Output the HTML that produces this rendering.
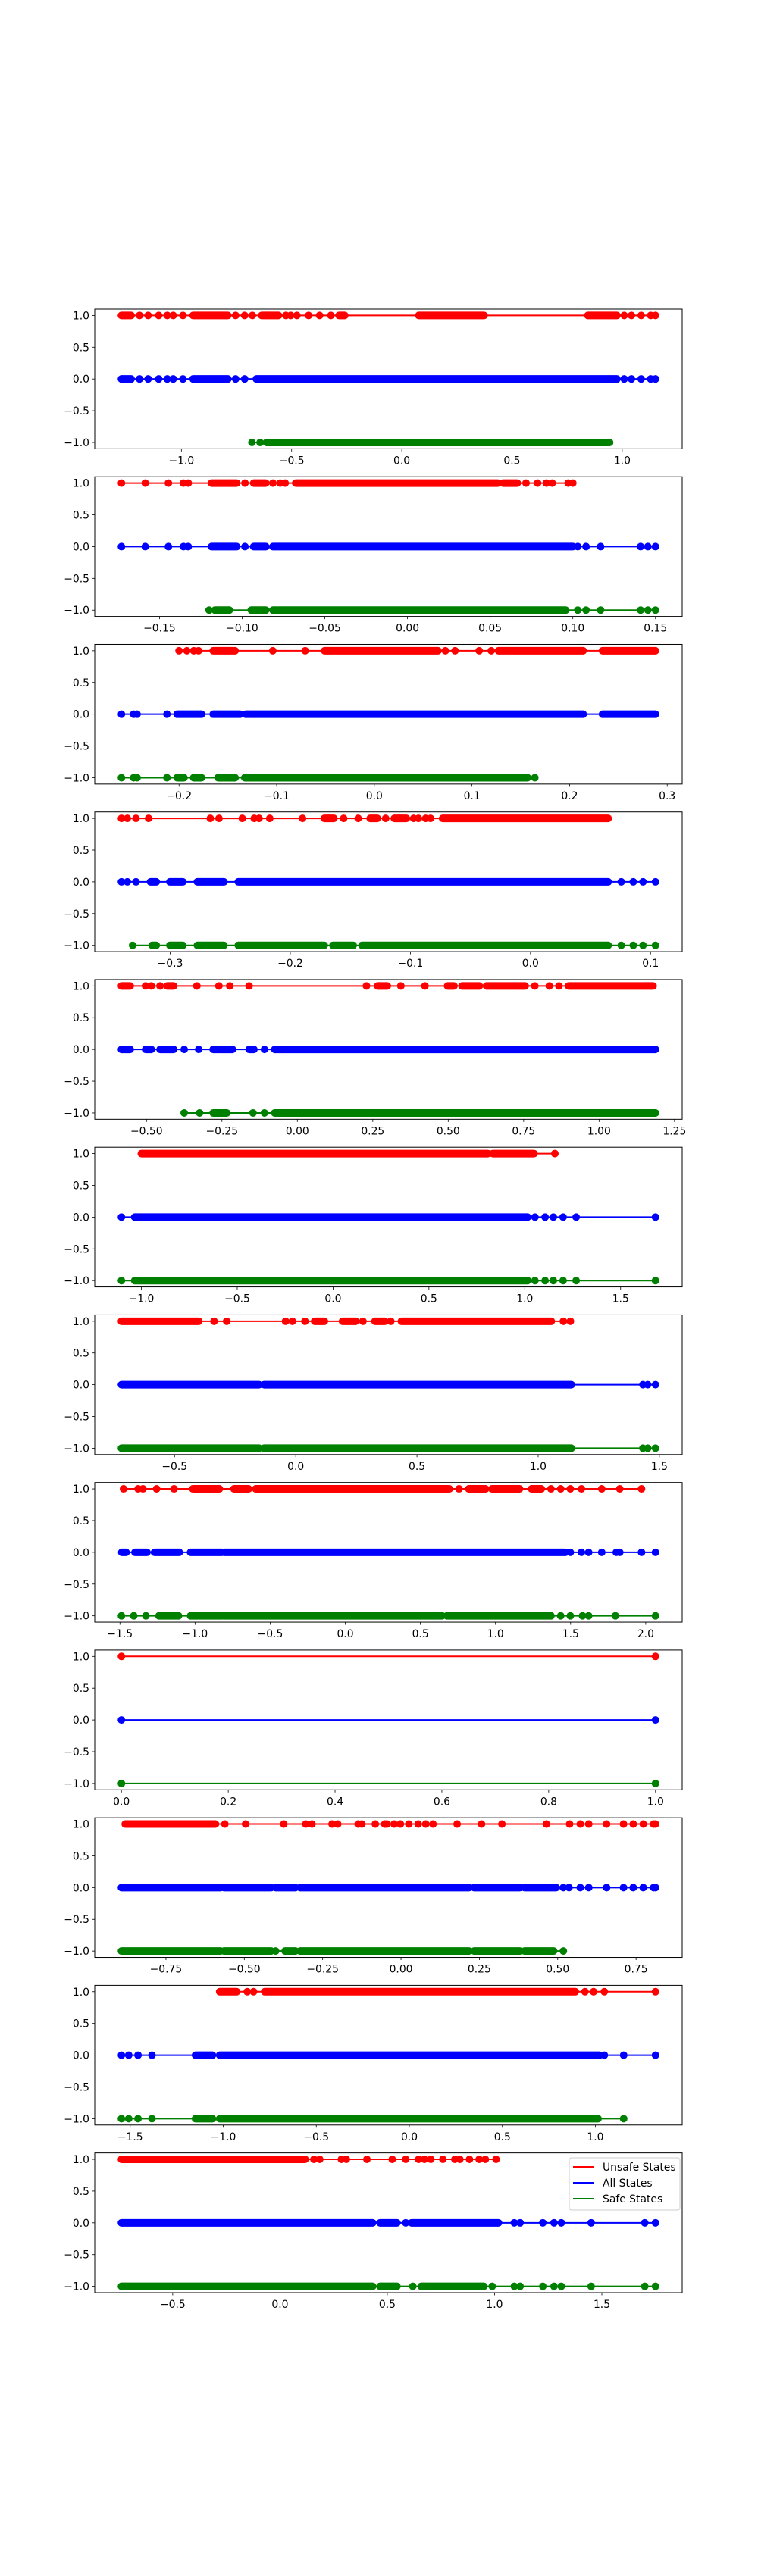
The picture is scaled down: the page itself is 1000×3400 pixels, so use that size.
<!DOCTYPE html>
<html><head><meta charset="utf-8">
<style>
html,body{margin:0;padding:0;background:#fff;}
svg{display:block;}
text{font-family:"DejaVu Sans","Liberation Sans",sans-serif;font-size:13.9px;fill:#000;}
</style></head>
<body>
<svg id="fig" width="1000" height="3400" viewBox="0 0 1000 3400" xmlns="http://www.w3.org/2000/svg"></svg>
<script>
// ---- data: x-values of markers (pts) and dense marker clusters (spans [from,to]) ----
const unsafe1Pts=[-1.19,-1.151,-1.103,-1.064,-1.037,-0.993,-0.754,-0.713,-0.678,-0.526,-0.504,-0.476,-0.423,-0.373,-0.322,1.009,1.042,1.086,1.129,1.151];
const unsafe1Dense=[[-1.272,-1.228],[-0.947,-0.789],[-0.636,-0.559],[-0.285,-0.259],[0.077,0.373],[0.844,0.976]];
const all1Pts=[-1.19,-1.151,-1.103,-1.064,-1.037,-0.993,-0.754,-0.713,1.009,1.042,1.086,1.129,1.151];
const all1Dense=[[-1.272,-1.228],[-0.947,-0.789],[-0.66,0.976]];
const safe1Pts=[-0.68,-0.643];
const safe1Dense=[[-0.614,0.943]];
const ticks1=[-1.0,-0.5,0.0,0.5,1.0];

const unsafe2Pts=[-0.173,-0.1586,-0.1446,-0.1355,-0.1326,-0.0983,-0.0814,-0.077,-0.074,0.0717,0.0787,0.084,0.0875,0.0972,0.1];
const unsafe2Dense=[[-0.1185,-0.1033],[-0.093,-0.0857],[-0.0676,0.0547],[0.0577,0.0664]];
const all2Pts=[-0.173,-0.1586,-0.1446,-0.1355,-0.1326,-0.0983,0.103,0.108,0.1168,0.141,0.1454,0.15];
const all2Dense=[[-0.1185,-0.1033],[-0.093,-0.0857],[-0.0814,0.1]];
const safe2Pts=[-0.12,0.103,0.108,0.1168,0.141,0.1454,0.15];
const safe2Dense=[[-0.1165,-0.1077],[-0.0945,-0.0857],[-0.0814,0.0957]];
const ticks2=[-0.15,-0.10,-0.05,0.00,0.05,0.10,0.15];

const unsafe3Pts=[-0.2,-0.192,-0.185,-0.18,-0.104,-0.0708,0.0728,0.0827,0.1074,0.1198];
const unsafe3Dense=[[-0.165,-0.1426],[-0.051,0.0653],[0.1272,0.2139],[0.2337,0.288]];
const all3Pts=[-0.259,-0.2465,-0.243,-0.2124];
const all3Dense=[[-0.202,-0.177],[-0.165,-0.1376],[-0.1317,0.2139],[0.2337,0.288]];
const safe3Pts=[-0.259,-0.2465,-0.243,-0.2124,0.1644];
const safe3Dense=[[-0.202,-0.195],[-0.185,-0.177],[-0.16,-0.1426],[-0.1327,0.157]];
const ticks3=[-0.2,-0.1,0.0,0.1,0.2,0.3];

const unsafe4Pts=[-0.3406,-0.3357,-0.3285,-0.318,-0.2666,-0.2594,-0.24,-0.23,-0.226,-0.2171,-0.1898,-0.1556,-0.1435,-0.1206,-0.0973,-0.0933,-0.0873,-0.0832];
const unsafe4Dense=[[-0.1717,-0.1637],[-0.1335,-0.1275],[-0.1134,-0.1033],[-0.0732,0.0647]];
const all4Pts=[-0.3406,-0.3357,-0.3285,0.0756,0.0856,0.0937,0.1041];
const all4Dense=[[-0.3164,-0.3116],[-0.3003,-0.2895],[-0.2774,-0.2553],[-0.2433,0.0647]];
const safe4Pts=[-0.3313,0.0756,0.0856,0.0937,0.1041];
const safe4Dense=[[-0.315,-0.3116],[-0.3003,-0.2895],[-0.2774,-0.2553],[-0.2433,-0.1717],[-0.1645,-0.1476],[-0.1403,0.0647]];
const ticks4=[-0.3,-0.2,-0.1,0.0,0.1];

const unsafe5Pts=[-0.503,-0.484,-0.455,-0.333,-0.26,-0.224,-0.16,0.229,0.343,0.423,0.787,0.835,0.867];
const unsafe5Dense=[[-0.583,-0.554],[-0.431,-0.41],[0.266,0.298],[0.498,0.519],[0.546,0.603],[0.627,0.755],[0.899,1.179]];
const all5Pts=[-0.375,-0.327,-0.109];
const all5Dense=[[-0.583,-0.554],[-0.503,-0.484],[-0.455,-0.41],[-0.279,-0.215],[-0.16,-0.144],[-0.075,1.187]];
const safe5Pts=[-0.375,-0.324,-0.147,-0.109];
const safe5Dense=[[-0.279,-0.234],[-0.075,1.187]];
const ticks5=[-0.50,-0.25,0.00,0.25,0.50,0.75,1.00,1.25];

const unsafe6Pts=[1.157];
const unsafe6Dense=[[-1.0,0.808],[0.833,1.048]];
const all6Pts=[-1.104,1.053,1.106,1.149,1.2,1.268,1.682];
const all6Dense=[[-1.035,1.015]];
const safe6Pts=[-1.104,1.053,1.106,1.149,1.2,1.268,1.682];
const safe6Dense=[[-1.035,1.015]];
const ticks6=[-1.0,-0.5,0.0,0.5,1.0,1.5];

const unsafe7Pts=[-0.337,-0.285,-0.042,-0.014,0.038,0.277,0.392,1.104,1.133];
const unsafe7Dense=[[-0.719,-0.4],[0.078,0.118],[0.193,0.247],[0.327,0.367],[0.436,1.054]];
const all7Pts=[1.432,1.452,1.484];
const all7Dense=[[-0.719,-0.151],[-0.131,1.137]];
const safe7Pts=[1.432,1.452,1.484];
const safe7Dense=[[-0.719,-0.151],[-0.131,1.137]];
const ticks7=[-0.5,0.0,0.5,1.0,1.5];

const unsafe8Pts=[-1.476,-1.379,-1.347,-1.256,-1.14,0.757,1.369,1.434,1.498,1.572,1.707,1.827,1.972];
const unsafe8Dense=[[-1.015,-0.838],[-0.741,-0.644],[-0.596,0.693],[0.822,0.934],[0.976,1.16],[1.24,1.305]];
const all8Pts=[1.498,1.572,1.62,1.707,1.804,1.827,1.972,2.065];
const all8Dense=[[-1.488,-1.459],[-1.40,-1.32],[-1.27,-1.105],[-1.03,-0.82],[-0.805,1.466]];
const safe8Pts=[-1.49,-1.408,-1.327,1.434,1.498,1.579,1.62,1.798,2.065];
const safe8Dense=[[-1.24,-1.11],[-1.03,-0.82],[-0.805,0.644],[0.677,1.369]];
const ticks8=[-1.5,-1.0,-0.5,0.0,0.5,1.0,1.5,2.0];

const unsafe9Pts=[0,1];
const unsafe9Dense=[];
const all9Pts=[0,1];
const all9Dense=[];
const safe9Pts=[0,1];
const safe9Dense=[];
const ticks9=[0.0,0.2,0.4,0.6,0.8,1.0];

const unsafe10Pts=[-0.562,-0.496,-0.374,-0.304,-0.284,-0.22,-0.202,-0.137,-0.125,-0.082,-0.052,-0.045,-0.022,-0.002,0.025,0.055,0.079,0.102,0.179,0.257,0.322,0.464,0.538,0.572,0.599,0.656,0.71,0.741,0.773,0.806,0.812];
const unsafe10Dense=[[-0.88,-0.592]];
const all10Pts=[0.518,0.536,0.572,0.599,0.656,0.71,0.741,0.773,0.806,0.812];
const all10Dense=[[-0.892,-0.576],[-0.565,-0.414],[-0.4,-0.337],[-0.322,0.217],[0.233,0.379],[0.394,0.495]];
const safe10Pts=[-0.4,0.518];
const safe10Dense=[[-0.892,-0.576],[-0.565,-0.414],[-0.37,-0.337],[-0.322,0.217],[0.233,0.379],[0.394,0.487]];
const ticks10=[-0.75,-0.50,-0.25,0.00,0.25,0.50,0.75];

const unsafe11Pts=[-0.871,-0.837,0.944,0.99,1.048,1.323];
const unsafe11Dense=[[-1.019,-0.928],[-0.777,0.892]];
const all11Pts=[-1.547,-1.508,-1.458,-1.383,1.048,1.152,1.323];
const all11Dense=[[-1.149,-1.058],[-1.019,1.022]];
const safe11Pts=[-1.547,-1.508,-1.458,-1.383,1.152];
const safe11Dense=[[-1.149,-1.058],[-1.019,1.014]];
const ticks11=[-1.5,-1.0,-0.5,0.0,0.5,1.0];

const unsafe12Pts=[0.158,0.185,0.286,0.309,0.405,0.523,0.586,0.646,0.673,0.703,0.759,0.815,0.838,0.883,0.928,0.957,1.007];
const unsafe12Dense=[[-0.739,0.117]];
const all12Pts=[0.586,1.092,1.119,1.225,1.277,1.311,1.45,1.7,1.75];
const all12Dense=[[-0.739,0.432],[0.466,0.545],[0.613,1.018]];
const safe12Pts=[0.619,0.989,1.092,1.119,1.225,1.277,1.311,1.45,1.7,1.75];
const safe12Dense=[[-0.739,0.432],[0.466,0.545],[0.658,0.95]];
const ticks12=[-0.5,0.0,0.5,1.0,1.5];

const seriesNames=["Unsafe States","All States","Safe States"];
const seriesLevels=[1,0,-1];
const yTicks=[-1.0,-0.5,0.0,0.5,1.0];

const panels=[
 [[unsafe1Pts,unsafe1Dense],[all1Pts,all1Dense],[safe1Pts,safe1Dense],ticks1,1],
 [[unsafe2Pts,unsafe2Dense],[all2Pts,all2Dense],[safe2Pts,safe2Dense],ticks2,2],
 [[unsafe3Pts,unsafe3Dense],[all3Pts,all3Dense],[safe3Pts,safe3Dense],ticks3,1],
 [[unsafe4Pts,unsafe4Dense],[all4Pts,all4Dense],[safe4Pts,safe4Dense],ticks4,1],
 [[unsafe5Pts,unsafe5Dense],[all5Pts,all5Dense],[safe5Pts,safe5Dense],ticks5,2],
 [[unsafe6Pts,unsafe6Dense],[all6Pts,all6Dense],[safe6Pts,safe6Dense],ticks6,1],
 [[unsafe7Pts,unsafe7Dense],[all7Pts,all7Dense],[safe7Pts,safe7Dense],ticks7,1],
 [[unsafe8Pts,unsafe8Dense],[all8Pts,all8Dense],[safe8Pts,safe8Dense],ticks8,1],
 [[unsafe9Pts,unsafe9Dense],[all9Pts,all9Dense],[safe9Pts,safe9Dense],ticks9,1],
 [[unsafe10Pts,unsafe10Dense],[all10Pts,all10Dense],[safe10Pts,safe10Dense],ticks10,2],
 [[unsafe11Pts,unsafe11Dense],[all11Pts,all11Dense],[safe11Pts,safe11Dense],ticks11,1],
 [[unsafe12Pts,unsafe12Dense],[all12Pts,all12Dense],[safe12Pts,safe12Dense],ticks12,1]
];

// ---- layout ----
const NS="http://www.w3.org/2000/svg";
const svg=document.getElementById('fig');
const AX_L=125, AX_R=900, TOP=408, PH=184.37, STEP=221.24;
const COLORS=["#ff0000","#0000ff","#008000"];
const R=5;
function mk(tag,attrs,parent){const e=document.createElementNS(NS,tag);for(const k in attrs)e.setAttribute(k,attrs[k]);(parent||svg).appendChild(e);return e;}
function fmt(v,d){const s=Math.abs(v).toFixed(d);return (v<-1e-9?"\u2212":"")+s;}

panels.forEach((p,i)=>{
  const top=TOP+i*STEP, bot=top+PH;
  const g=mk('g',{});
  
  
  let mn=Infinity,mx=-Infinity;
  for(let s=0;s<3;s++){p[s][0].forEach(v=>{mn=Math.min(mn,v);mx=Math.max(mx,v);});p[s][1].forEach(r=>{mn=Math.min(mn,r[0]);mx=Math.max(mx,r[1]);});}
  const m=(mx-mn)*0.05; const x0=mn-m, x1=mx+m;
  const X=v=>AX_L+(v-x0)/(x1-x0)*(AX_R-AX_L);
  const Y=v=>bot-(v+1.1)/2.2*PH;
  const cp='clip'+i;
  const cl=mk('clipPath',{id:cp},g); mk('rect',{x:AX_L,y:top,width:AX_R-AX_L,height:PH},cl);
  const plot=mk('g',{'clip-path':'url(#'+cp+')'},g);
  for(let s=0;s<3;s++){
    const pts=p[s][0], dense=p[s][1], y=Y(seriesLevels[s]);
    let smin=Infinity,smax=-Infinity;
    pts.forEach(v=>{smin=Math.min(smin,v);smax=Math.max(smax,v);});
    dense.forEach(r=>{smin=Math.min(smin,r[0]);smax=Math.max(smax,r[1]);});
    const sg=mk('g',{},plot);
    
    
    const ln=mk('line',{x1:X(smin),x2:X(smax),y1:y,y2:y,stroke:COLORS[s],'stroke-width':2},sg);
    
    
    dense.forEach(r=>{
      const rc=mk('rect',{x:X(r[0])-R,y:y-R,width:X(r[1])-X(r[0])+2*R,height:2*R,rx:R,ry:R,fill:COLORS[s]},sg);
      
      
    });
    pts.forEach(v=>{
      const c=mk('circle',{cx:X(v),cy:y,r:R,fill:COLORS[s]},sg);
      
      
    });
  }
  const fr=mk('rect',{x:AX_L,y:top,width:AX_R-AX_L,height:PH,fill:'none',stroke:'#000','stroke-width':1},g);
  
  
  yTicks.forEach(t=>{
    const y=Y(t);
    mk('line',{x1:AX_L-3.5,x2:AX_L,y1:y,y2:y,stroke:'#000','stroke-width':0.8},g);
    const tx=mk('text',{x:AX_L-7,y:y+5,'text-anchor':'end'},g);
    tx.textContent=fmt(t,1);
    
    
  });
  p[3].forEach(t=>{
    const x=X(t); if(x<AX_L-0.5||x>AX_R+0.5)return;
    mk('line',{x1:x,x2:x,y1:bot,y2:bot+3.5,stroke:'#000','stroke-width':0.8},g);
    const tx=mk('text',{x:x,y:bot+20,'text-anchor':'middle'},g);
    tx.textContent=fmt(t,p[4]);
    
    
  });
  if(i===11){
    const lg=mk('g',{},g);
    
    
    mk('rect',{x:751,y:2848,width:146,height:69,rx:3,fill:'#fff',stroke:'#ccc','stroke-width':1},lg);
    seriesNames.forEach((n,k)=>{
      const yy=2860+k*21;
      const le=mk('g',{},lg);
      
      
      mk('line',{x1:756,x2:784,y1:yy,y2:yy,stroke:COLORS[k],'stroke-width':2},le);
      const t=mk('text',{x:795,y:yy+5},le); t.textContent=n;
    });
  }
});
</script>
</body></html>
